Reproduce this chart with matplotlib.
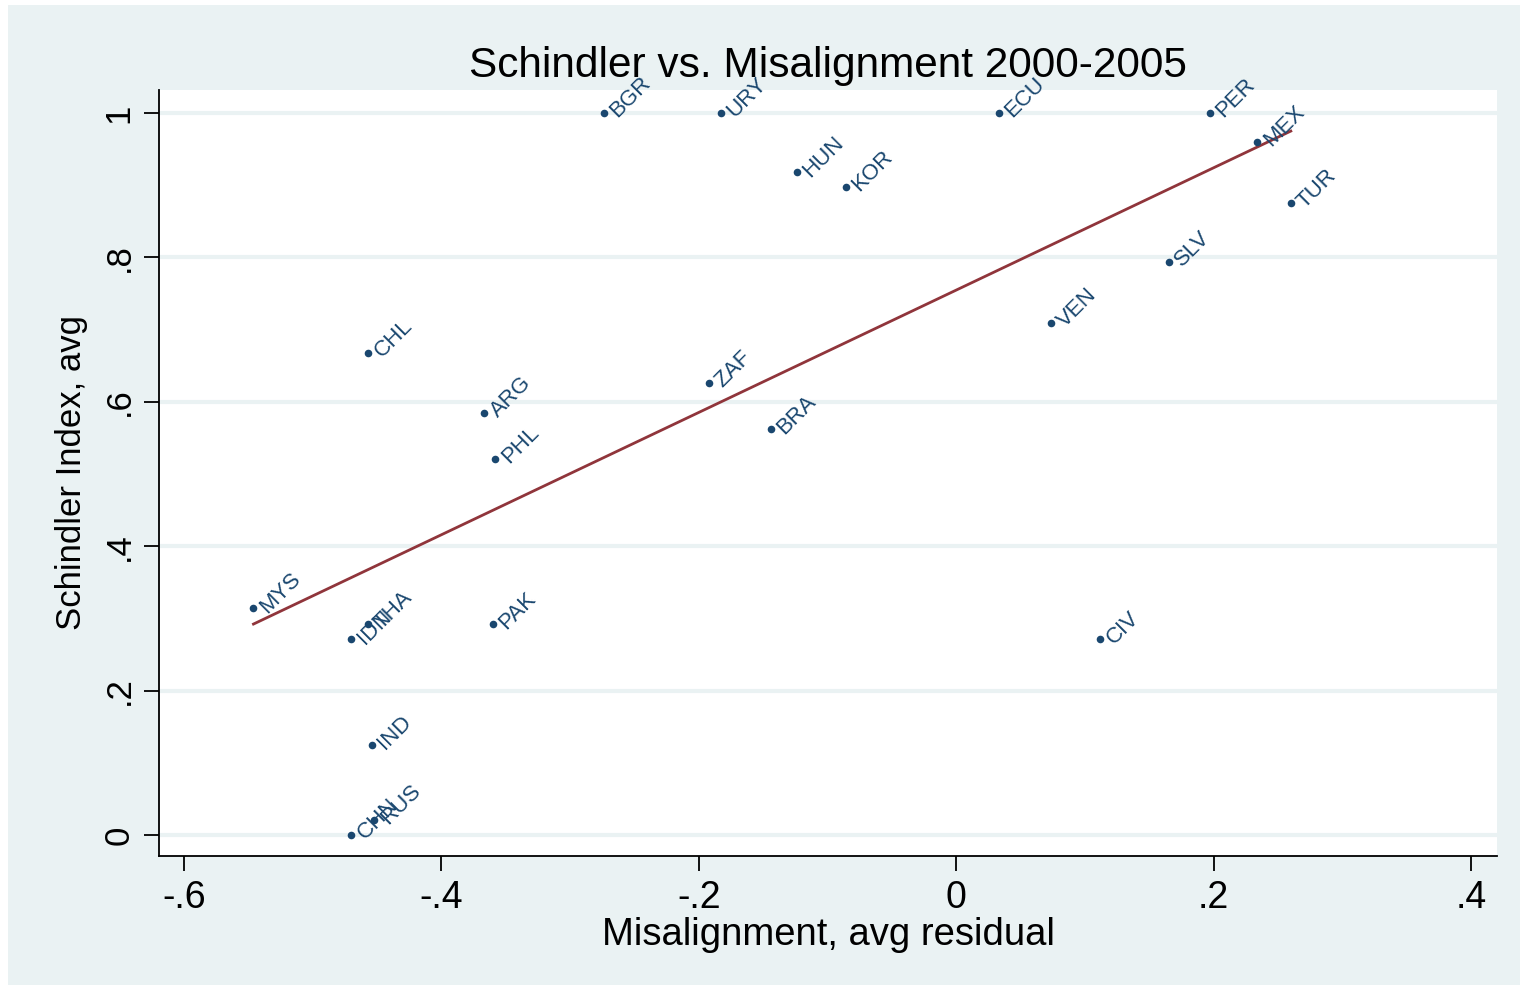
import numpy as np
import matplotlib
matplotlib.use("Agg")
import matplotlib.pyplot as plt
from matplotlib.patches import Rectangle

# datos
paises = ["BGR", "URY", "ECU", "PER", "MEX", "HUN", "KOR", "TUR", "SLV", "VEN",
          "CHL", "ZAF", "ARG", "BRA", "PHL", "MYS", "PAK", "CIV", "IDN", "THA",
          "IND", "CHN", "RUS"]
desalineacion = [-0.274, -0.183, 0.033, 0.197, 0.234, -0.124, -0.086, 0.260, 0.165, 0.074,
                 -0.457, -0.192, -0.367, -0.144, -0.358, -0.546, -0.360, 0.112, -0.470, -0.457,
                 -0.454, -0.470, -0.452]
schindler = [1.0, 1.0, 1.0, 1.0, 0.960, 0.918, 0.898, 0.875, 0.794, 0.709,
             0.668, 0.626, 0.585, 0.562, 0.521, 0.314, 0.292, 0.271, 0.271, 0.292,
             0.125, 0.0, 0.021]

x_ticks = [-0.6, -0.4, -0.2, 0, 0.2, 0.4]
x_tick_labels = ["-.6", "-.4", "-.2", "0", ".2", ".4"]
y_ticks = [0, 0.2, 0.4, 0.6, 0.8, 1.0]
y_tick_labels = ["0", ".2", ".4", ".6", ".8", "1"]

AZUL = "#1a476f"
GUINDA = "#90353b"
FONDO = "#eaf2f3"

plt.rcParams['font.family'] = ['Liberation Sans', 'DejaVu Sans']


def graficar():
    fig = plt.figure(figsize=(15.28, 9.92), dpi=100, facecolor="white")
    fig.patches.append(Rectangle((8 / 1528, 7 / 992), 1512 / 1528, 980 / 992,
                                 transform=fig.transFigure, facecolor=FONDO,
                                 edgecolor="none", zorder=-10))
    ax = fig.add_axes([159 / 1528, 136 / 992, 1338 / 1528, 766 / 992])
    ax.set_facecolor("white")

    x = np.array(desalineacion)
    y = np.array(schindler)

    ax.scatter(x, y, s=30, color=AZUL, zorder=3, linewidths=0)
    for nombre, xi, yi in zip(paises, x, y):
        ax.annotate(nombre, (xi, yi), xytext=(7, -1), textcoords="offset points",
                    rotation=45, rotation_mode="anchor", ha="left", va="center",
                    fontsize=16, color=AZUL, zorder=4)

    # recta ajustada
    m, b = np.polyfit(x, y, 1)
    xs = np.array([x.min(), x.max()])
    ax.plot(xs, m * xs + b, color=GUINDA, linewidth=2, zorder=2)

    ax.set_xlim(-0.6194, 0.4202)
    ax.set_ylim(-0.029, 1.032)
    ax.set_xticks(x_ticks)
    ax.set_xticklabels(x_tick_labels, fontsize=27)
    ax.set_yticks(y_ticks)
    ax.set_yticklabels(y_tick_labels, fontsize=25, rotation=90, va="center")
    ax.tick_params(axis="both", direction="out", length=11, width=1.3, color="black", pad=6)
    ax.yaxis.grid(True, color=FONDO, linewidth=3)
    ax.set_axisbelow(True)

    for lado in ["top", "right"]:
        ax.spines[lado].set_visible(False)
    for lado in ["left", "bottom"]:
        ax.spines[lado].set_linewidth(1.3)

    ax.set_title("Schindler vs. Misalignment 2000-2005", fontsize=30.5, pad=9)
    ax.set_xlabel("Misalignment, avg residual", fontsize=27.5, labelpad=1)
    ax.set_ylabel("Schindler Index, avg", fontsize=25, labelpad=10)

    fig.savefig("out.png", dpi=100, facecolor="white")


def main():
    graficar()


if __name__ == "__main__":
    main()
